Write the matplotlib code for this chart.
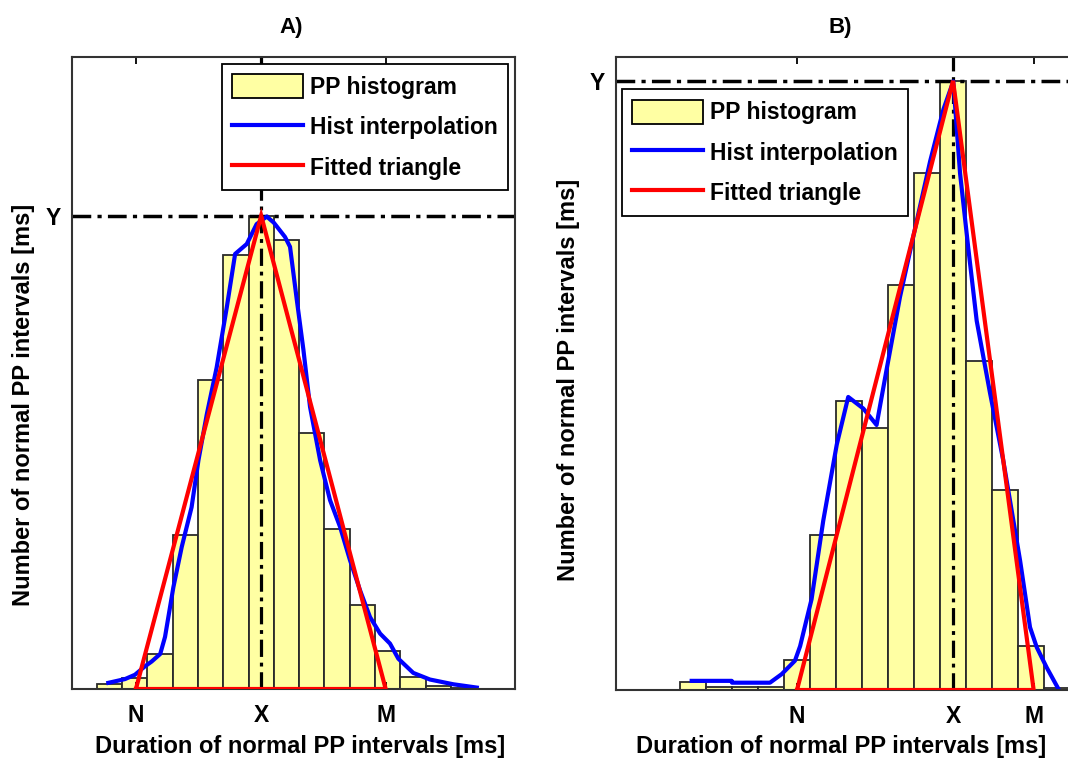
import numpy as np
import matplotlib
matplotlib.use("Agg")
import matplotlib.pyplot as plt
from matplotlib.patches import Patch
from matplotlib.lines import Line2D

plt.rcParams['font.family'] = ['Liberation Sans', 'DejaVu Sans']
plt.rcParams['font.weight'] = 'bold'

# ---------------- data (bin units on x, counts scaled so peak Y = 100) ----------------
a_counts = [1.1, 2.3, 7.4, 32.5, 65.2, 91.6, 100.0, 94.8, 54.1, 33.7, 17.8, 8.1, 2.5, 0.6, 0.2]
a_interp_x = [0.46, 1.12, 1.51, 1.91, 2.17, 2.51, 2.70, 3.03, 3.36, 3.75, 4.02, 4.35, 4.74,
              5.14, 5.47, 5.93, 6.32, 6.72, 7.00, 7.44, 7.64, 7.91, 8.17, 8.43, 8.83, 9.22,
              9.62, 10.01, 10.41, 10.80, 11.20, 11.59, 11.92, 12.51, 13.17, 14.09, 15.02]
a_interp_y = [1.3, 2.1, 3.0, 4.8, 5.8, 7.4, 11.0, 21.5, 30.0, 38.4, 48.3, 58.0, 67.9,
              80.6, 91.9, 94.0, 98.2, 99.8, 98.5, 95.5, 93.4, 82.1, 71.6, 59.6, 48.3, 39.9,
              34.2, 27.2, 20.8, 15.2, 11.7, 9.6, 6.4, 3.4, 2.0, 1.0, 0.3]
a_tri_x = [1.55, 6.5, 11.42, 1.55]   # N, X, M, back to N
a_tri_y = [0.0, 100.0, 0.0, 0.0]
a_ticks = [1.55, 6.5, 11.42]
a_Y = 100.0

b_counts = [1.3, 0.5, 0.5, 0.5, 5.0, 25.5, 47.5, 43.0, 66.5, 84.8, 100.0, 54.0, 32.8, 7.3, 0.3]
b_interp_x = [0.45, 1.99, 2.0, 3.46, 3.91, 4.42, 4.62, 4.87, 5.06, 5.51, 6.03, 6.47, 7.05,
              7.56, 7.95, 8.46, 9.10, 9.62, 10.13, 10.51, 10.77, 11.09, 11.41, 11.92, 12.43,
              13.08, 13.46, 13.72, 14.10, 14.55]
b_interp_y = [1.5, 1.5, 1.2, 1.2, 2.6, 4.8, 7.2, 11.6, 14.9, 27.8, 40.3, 48.1, 46.2,
              43.5, 52.7, 64.5, 76.9, 86.8, 95.3, 99.9, 84.8, 72.4, 60.6, 48.8, 37.7,
              21.2, 10.3, 7.0, 3.7, 0.2]
b_tri_x = [4.5, 10.5, 13.6, 4.5]
b_tri_y = [0.0, 100.0, 0.0, 0.0]
b_ticks = [4.5, 10.5, 13.6]
b_Y = 100.0

x_tick_labels = ['N', 'X', 'M']
y_tick_labels = ['Y']
legend_labels = ['PP histogram', 'Hist interpolation', 'Fitted triangle']
xlabel = 'Duration of normal PP intervals [ms]'
ylabel = 'Number of normal PP intervals [ms]'

# ---------------- style ----------------
W, H = 1068, 765
BAR_FC = '#FFFFA3'
BAR_EC = '#2a2a2a'
BLUE = '#0000FF'
RED = '#FF0000'
FS = 16.5
LFS = 17
CURVE_LW = 3.0
DASHDOT = (0, (5.4, 1.8, 1.2, 1.8))

fig = plt.figure(figsize=(W / 100, H / 100), dpi=100)


def px_axes(l, t, r, b):
    return fig.add_axes([l / W, 1 - b / H, (r - l) / W, (b - t) / H])


def draw_panel(ax, counts, ix, iy, tx, ty, ticks, yv, xlim, ylim):
    centers = np.arange(len(counts)) + 0.5
    ax.bar(centers, counts, width=1.0, color=BAR_FC, edgecolor=BAR_EC,
           linewidth=1.3, zorder=1)
    ax.axhline(yv, color='k', lw=2.5, ls=DASHDOT, zorder=1.6)
    ax.axvline(ticks[1], color='k', lw=2.3, ls=DASHDOT, zorder=1.6)
    ax.plot(ix, iy, color=BLUE, lw=CURVE_LW, zorder=2.1, solid_joinstyle='round')
    ax.plot(tx, ty, color=RED, lw=CURVE_LW, zorder=2.2, solid_joinstyle='miter')
    ax.set_xlim(*xlim)
    ax.set_ylim(*ylim)
    ax.set_xticks(ticks)
    ax.set_xticklabels(x_tick_labels)
    ax.set_yticks([yv])
    ax.set_yticklabels(y_tick_labels)
    ax.tick_params(axis='both', direction='in', length=5, width=1.3,
                   top=True, right=True, labelsize=FS, colors='k')
    ax.tick_params(axis='x', pad=11)
    ax.tick_params(axis='y', pad=8)
    for s in ax.spines.values():
        s.set_linewidth(1.5)
        s.set_color('#333333')
        s.set_zorder(2.15)


handles = [Patch(facecolor=BAR_FC, edgecolor='k', linewidth=1.3),
           Line2D([], [], color=BLUE, lw=CURVE_LW),
           Line2D([], [], color=RED, lw=CURVE_LW)]
leg_kw = dict(borderaxespad=0, fontsize=FS, handlelength=3.1, handleheight=1.25,
              handletextpad=0.3, labelspacing=0.68, borderpad=0.45, fancybox=False,
              framealpha=1, edgecolor='k')

# Panel A
axA = px_axes(72, 57, 515, 689)
draw_panel(axA, a_counts, a_interp_x, a_interp_y, a_tri_x, a_tri_y, a_ticks, a_Y,
           (-0.976, 16.53), (0, 133.5))
legA = axA.legend(handles, legend_labels, loc='upper right', bbox_to_anchor=(0.984, 0.989),
                  **leg_kw)
legA.get_frame().set_linewidth(1.3)
legA.set_zorder(5)
axA.set_xlabel(xlabel, fontsize=LFS, fontweight='bold')
axA.xaxis.set_label_coords(300 / W, 1 - 735 / H, transform=fig.transFigure)
axA.set_ylabel(ylabel, fontsize=LFS, fontweight='bold')
axA.yaxis.set_label_coords(35 / W, 1 - 405 / H, transform=fig.transFigure)
fig.text(291 / W, 1 - 27 / H, 'A)', ha='center', va='center', fontsize=16, fontweight='bold')

# Panel B (right edge runs past the figure)
axB = px_axes(616, 57, 1075, 690)
draw_panel(axB, b_counts, b_interp_x, b_interp_y, b_tri_x, b_tri_y, b_ticks, b_Y,
           (-2.46, 15.19), (0, 103.9))
legB = axB.legend(handles, legend_labels, loc='upper left', bbox_to_anchor=(0.013, 0.949),
                  **leg_kw)
legB.get_frame().set_linewidth(1.3)
legB.set_zorder(5)
axB.set_xlabel(xlabel, fontsize=LFS, fontweight='bold')
axB.xaxis.set_label_coords(841 / W, 1 - 735 / H, transform=fig.transFigure)
axB.set_ylabel(ylabel, fontsize=LFS, fontweight='bold')
axB.yaxis.set_label_coords(580 / W, 1 - 380 / H, transform=fig.transFigure)
fig.text(840 / W, 1 - 27 / H, 'B)', ha='center', va='center', fontsize=16, fontweight='bold')

fig.savefig('out.png', dpi=100)
